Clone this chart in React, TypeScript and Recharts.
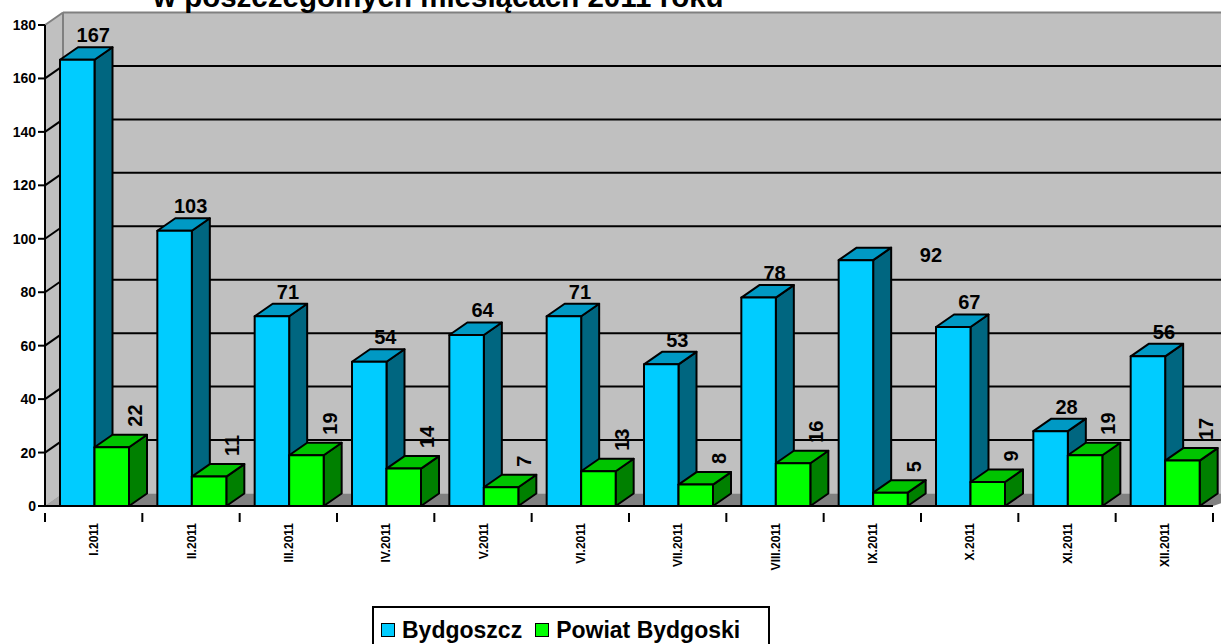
import React from 'react';
import { BarChart, Bar, XAxis, YAxis, CartesianGrid, Legend, LabelList } from 'recharts';

const months = ['I.2011', 'II.2011', 'III.2011', 'IV.2011', 'V.2011', 'VI.2011', 'VII.2011', 'VIII.2011', 'IX.2011', 'X.2011', 'XI.2011', 'XII.2011'];
const bydgoszcz = [167, 103, 71, 54, 64, 71, 53, 78, 92, 67, 28, 56];
const powiatBydgoski = [22, 11, 19, 14, 7, 13, 8, 16, 5, 9, 19, 17];
const yTicks = [0, 20, 40, 60, 80, 100, 120, 140, 160, 180];

const data = months.map((month, i) => ({
  month,
  bydgoszcz: bydgoszcz[i],
  powiat: powiatBydgoski[i],
}));

const FONT = '"Liberation Sans", Arial, sans-serif';
const DX = 18;
const DY = -12.5;

const BLUE = { front: '#00CCFF', top: '#0099C4', side: '#006680' };
const GREEN = { front: '#00FF00', top: '#00C400', side: '#008000' };

const make3DBar = (c: { front: string; top: string; side: string }) => (props: any) => {
  const { x, y, width, height } = props;
  if (x == null || height == null) return <g />;
  const bx = x + 1;
  return (
    <g stroke="#000" strokeWidth={2} strokeLinejoin="round">
      <polygon
        points={`${bx + width},${y} ${bx + width + DX},${y + DY} ${bx + width + DX},${y + height + DY} ${bx + width},${y + height}`}
        fill={c.side}
      />
      <polygon
        points={`${bx},${y} ${bx + DX},${y + DY} ${bx + width + DX},${y + DY} ${bx + width},${y}`}
        fill={c.top}
      />
      <rect x={bx} y={y} width={width} height={height} fill={c.front} />
    </g>
  );
};

const BlueLabel = (props: any) => {
  const { x, y, width, value, index } = props;
  let lx = x + 1 + width / 2 + 16;
  let ly = y + DY - 5;
  // this one sits off to the right in the original chart
  if (index === 8) {
    lx += 59;
    ly += 19;
  }
  return (
    <text x={lx} y={ly} textAnchor="middle" fontFamily={FONT} fontWeight="bold" fontSize={20} fill="#000">
      {value}
    </text>
  );
};

const GreenLabel = (props: any) => {
  const { x, y, width, value } = props;
  const cx = x + 1 + width + 6 + 7;
  const cy = y + DY - 8;
  return (
    <text
      x={cx}
      y={cy}
      transform={`rotate(-90 ${cx} ${cy})`}
      textAnchor="start"
      fontFamily={FONT}
      fontWeight="bold"
      fontSize={20}
      fill="#000"
    >
      {value}
    </text>
  );
};

const MonthTick = (props: any) => {
  const { x, y, payload, index } = props;
  const half = payload.offset || 48.7;
  const tx = x + 4.5;
  const ty = y + 9;
  return (
    <g>
      <line x1={x - half} y1={y - 1} x2={x - half} y2={y + 8} stroke="#000" strokeWidth={2} />
      {index === months.length - 1 && (
        <line x1={x + half} y1={y - 1} x2={x + half} y2={y + 8} stroke="#000" strokeWidth={2} />
      )}
      <text
        x={tx}
        y={ty}
        transform={`rotate(-90 ${tx} ${ty})`}
        textAnchor="end"
        fontFamily={FONT}
        fontWeight="bold"
        fontSize={12}
        fill="#000"
      >
        {payload.value}
      </text>
    </g>
  );
};

// grid lines drawn on the back and side walls; walls + floor drawn with the first line
const GridLine = (props: any) => {
  const { x1, x2, y1, index, y, height } = props;
  const top = y != null ? y : 25;
  const bottom = y != null && height != null ? y + height : 506;
  const v = Math.round(((bottom - y1) / (bottom - top)) * 180);
  return (
    <g key={`grid-${index}`}>
      {index === 0 && (
        <g>
          <rect x={x1 + DX} y={top + DY} width={x2 - x1 + 40} height={bottom - top} fill="#C0C0C0" />
          <polygon
            points={`${x1},${top} ${x1 + DX},${top + DY} ${x1 + DX},${bottom + DY} ${x1},${bottom}`}
            fill="#C0C0C0"
          />
          <polygon
            points={`${x1},${bottom} ${x1 + DX},${bottom + DY} ${x2 + DX + 20},${bottom + DY} ${x2},${bottom}`}
            fill="#808080"
          />
          <polygon
            points={`${x1},${bottom} ${x1 + DX},${bottom + DY} ${x1 + DX},${bottom}`}
            fill="#A6A6A6"
          />
          <line x1={x1 + DX} y1={top + DY} x2={x1 + DX} y2={bottom + DY} stroke="#808080" strokeWidth={2} />
          <line x1={x1} y1={top} x2={x1 + DX} y2={top + DY} stroke="#808080" strokeWidth={2} />
          <line x1={x1 + DX} y1={top + DY} x2={x2 + 60} y2={top + DY} stroke="#808080" strokeWidth={2} />
        </g>
      )}
      {v > 0 && v < 180 && (
        <g stroke="#000" strokeWidth={2}>
          <line x1={x1} y1={y1} x2={x1 + DX} y2={y1 + DY} />
          <line x1={x1 + DX} y1={y1 + DY} x2={x2 + 60} y2={y1 + DY} />
        </g>
      )}
    </g>
  );
};

const LegendBox = () => (
  <div
    style={{
      boxSizing: 'border-box',
      width: 398,
      height: 44,
      border: '2px solid #000',
      background: '#fff',
      display: 'flex',
      alignItems: 'center',
      paddingLeft: 7,
      paddingTop: 4,
      fontFamily: FONT,
      fontWeight: 'bold',
      fontSize: 23,
      color: '#000',
    }}
  >
    <span style={{ display: 'inline-block', width: 12, height: 12, border: '1.5px solid #000', background: BLUE.front, marginRight: 7 }} />
    <span style={{ marginRight: 13 }}>Bydgoszcz</span>
    <span style={{ display: 'inline-block', width: 12, height: 12, border: '1.5px solid #000', background: GREEN.front, marginRight: 7 }} />
    <span>Powiat Bydgoski</span>
  </div>
);

export default function App() {
  return (
    <div style={{ position: 'relative', width: 1221, height: 644, overflow: 'hidden', background: '#fff' }}>
      <style>{`body{margin:0}`}</style>
      <BarChart
        width={1221}
        height={644}
        data={data}
        margin={{ top: 25, right: 8, bottom: 0, left: 0 }}
        barGap={0}
        barSize={34.5}
      >
        <text x={153} y={7} fontFamily={FONT} fontWeight="bold" fontSize={29.5} fill="#000">
          w poszczególnych miesiącach 2011 roku
        </text>
        <CartesianGrid vertical={false} horizontal={GridLine} />
        <XAxis
          dataKey="month"
          height={138}
          interval={0}
          tickLine={false}
          axisLine={{ stroke: '#000', strokeWidth: 2 }}
          tick={<MonthTick />}
        />
        <YAxis
          width={45}
          domain={[0, 180]}
          ticks={yTicks}
          interval={0}
          tickSize={7}
          tickLine={{ stroke: '#000', strokeWidth: 2 }}
          axisLine={{ stroke: '#000', strokeWidth: 2 }}
          tick={{ fill: '#000', fontSize: 14, fontWeight: 'bold', fontFamily: FONT }}
        />
        <Legend
          layout="horizontal"
          verticalAlign="middle"
          align="center"
          content={<LegendBox />}
          wrapperStyle={{ left: 372, top: 606, width: 398, height: 44 }}
        />
        <Bar dataKey="bydgoszcz" name="Bydgoszcz" shape={make3DBar(BLUE)} isAnimationActive={false}>
          <LabelList dataKey="bydgoszcz" content={<BlueLabel />} />
        </Bar>
        <Bar dataKey="powiat" name="Powiat Bydgoski" shape={make3DBar(GREEN)} isAnimationActive={false}>
          <LabelList dataKey="powiat" content={<GreenLabel />} />
        </Bar>
      </BarChart>
    </div>
  );
}
